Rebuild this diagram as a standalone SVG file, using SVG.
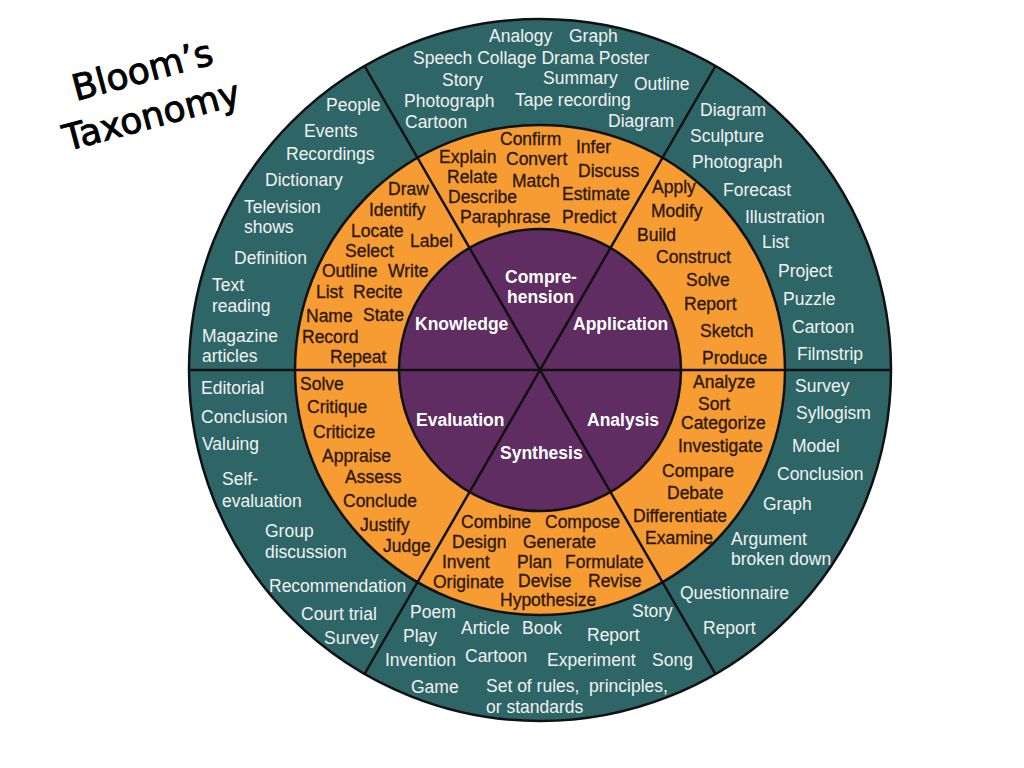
<svg xmlns="http://www.w3.org/2000/svg" width="1024" height="768" viewBox="0 0 1024 768">
<style>
.bg{fill:#ffffff}
.ring{stroke:#111111;stroke-width:2.5}
.teal{fill:#2e6667}
.orange{fill:#f69c33}
.purple{fill:#5f2d61}
.div{stroke:#111111;stroke-width:2.5;fill:none}
text{font-family:"Liberation Sans",Arial,sans-serif;font-size:17.5px}
.t{fill:#f1f1f1}
.o{fill:#2a1706;stroke:#2a1706;stroke-width:0.3}
.p{fill:#ffffff;font-weight:bold}
.title{font-family:"DejaVu Sans",Verdana,sans-serif;font-size:36px;fill:#000000;stroke:#000000;stroke-width:0.9}
</style>
<rect class="bg" x="0" y="0" width="1024" height="768"/>
<g id="title">
<text class="title" transform="translate(76,101) rotate(-15)">Bloom’s</text>
<text class="title" transform="translate(67,151) rotate(-15)">Taxonomy</text>
</g>
<g id="rings">
<circle class="ring teal" cx="540" cy="370" r="351"/>
<circle class="ring orange" cx="540" cy="370" r="245"/>
<circle class="ring purple" cx="540" cy="370" r="141"/>
</g>
<g id="connectors">
<line class="div" x1="189" y1="370" x2="891" y2="370"/>
<line class="div" x1="364.5" y1="66" x2="715.5" y2="674"/>
<line class="div" x1="715.5" y1="66" x2="364.5" y2="674"/>
</g>
<g id="knowledge">
<text class="p" x="415" y="330">Knowledge</text>
<text class="o" x="388" y="195">Draw</text>
<text class="o" x="369" y="216">Identify</text>
<text class="o" x="351" y="237">Locate</text>
<text class="o" x="410" y="247">Label</text>
<text class="o" x="345" y="257">Select</text>
<text class="o" x="322" y="277">Outline</text>
<text class="o" x="388" y="277">Write</text>
<text class="o" x="316" y="298">List</text>
<text class="o" x="353" y="298">Recite</text>
<text class="o" x="306" y="322">Name</text>
<text class="o" x="363" y="321">State</text>
<text class="o" x="302" y="343">Record</text>
<text class="o" x="330" y="363">Repeat</text>
<text class="t" x="326" y="111">People</text>
<text class="t" x="304" y="137">Events</text>
<text class="t" x="286" y="160">Recordings</text>
<text class="t" x="265" y="186">Dictionary</text>
<text class="t" x="244" y="213">Television</text>
<text class="t" x="244" y="233">shows</text>
<text class="t" x="234" y="264">Definition</text>
<text class="t" x="212" y="291">Text</text>
<text class="t" x="212" y="312">reading</text>
<text class="t" x="202" y="342">Magazine</text>
<text class="t" x="202" y="362">articles</text>
</g>
<g id="comprehension">
<text class="p" x="505" y="283">Compre-</text>
<text class="p" x="507" y="303">hension</text>
<text class="o" x="500" y="145">Confirm</text>
<text class="o" x="576" y="153">Infer</text>
<text class="o" x="439" y="163">Explain</text>
<text class="o" x="506" y="165">Convert</text>
<text class="o" x="578" y="177">Discuss</text>
<text class="o" x="447" y="183">Relate</text>
<text class="o" x="512" y="187">Match</text>
<text class="o" x="448" y="203">Describe</text>
<text class="o" x="562" y="200">Estimate</text>
<text class="o" x="460" y="223">Paraphrase</text>
<text class="o" x="562" y="223">Predict</text>
<text class="t" x="489" y="42">Analogy</text>
<text class="t" x="569" y="42">Graph</text>
<text class="t" x="413" y="64">Speech Collage Drama Poster</text>
<text class="t" x="442" y="86">Story</text>
<text class="t" x="543" y="84">Summary</text>
<text class="t" x="634" y="90">Outline</text>
<text class="t" x="404" y="107">Photograph</text>
<text class="t" x="515" y="106">Tape recording</text>
<text class="t" x="405" y="128">Cartoon</text>
<text class="t" x="608" y="127">Diagram</text>
</g>
<g id="application">
<text class="p" x="573" y="330">Application</text>
<text class="o" x="652" y="193">Apply</text>
<text class="o" x="651" y="217">Modify</text>
<text class="o" x="637" y="241">Build</text>
<text class="o" x="656" y="263">Construct</text>
<text class="o" x="686" y="286">Solve</text>
<text class="o" x="684" y="310">Report</text>
<text class="o" x="700" y="337">Sketch</text>
<text class="o" x="702" y="364">Produce</text>
<text class="t" x="700" y="116">Diagram</text>
<text class="t" x="690" y="142">Sculpture</text>
<text class="t" x="692" y="168">Photograph</text>
<text class="t" x="723" y="196">Forecast</text>
<text class="t" x="745" y="223">Illustration</text>
<text class="t" x="762" y="248">List</text>
<text class="t" x="778" y="277">Project</text>
<text class="t" x="783" y="305">Puzzle</text>
<text class="t" x="792" y="333">Cartoon</text>
<text class="t" x="797" y="360">Filmstrip</text>
</g>
<g id="analysis">
<text class="p" x="587" y="426">Analysis</text>
<text class="o" x="693" y="388">Analyze</text>
<text class="o" x="698" y="410">Sort</text>
<text class="o" x="681" y="429">Categorize</text>
<text class="o" x="678" y="452">Investigate</text>
<text class="o" x="662" y="477">Compare</text>
<text class="o" x="667" y="499">Debate</text>
<text class="o" x="633" y="522">Differentiate</text>
<text class="o" x="645" y="544">Examine</text>
<text class="t" x="795" y="392">Survey</text>
<text class="t" x="796" y="419">Syllogism</text>
<text class="t" x="792" y="452">Model</text>
<text class="t" x="777" y="480">Conclusion</text>
<text class="t" x="763" y="510">Graph</text>
<text class="t" x="731" y="545">Argument</text>
<text class="t" x="731" y="565">broken down</text>
<text class="t" x="680" y="599">Questionnaire</text>
<text class="t" x="703" y="634">Report</text>
</g>
<g id="synthesis">
<text class="p" x="500" y="459">Synthesis</text>
<text class="o" x="461" y="528">Combine</text>
<text class="o" x="545" y="528">Compose</text>
<text class="o" x="452" y="548">Design</text>
<text class="o" x="523" y="548">Generate</text>
<text class="o" x="442" y="568">Invent</text>
<text class="o" x="517" y="568">Plan</text>
<text class="o" x="565" y="568">Formulate</text>
<text class="o" x="433" y="588">Originate</text>
<text class="o" x="518" y="587">Devise</text>
<text class="o" x="588" y="587">Revise</text>
<text class="o" x="500" y="606">Hypothesize</text>
<text class="t" x="410" y="618">Poem</text>
<text class="t" x="632" y="617">Story</text>
<text class="t" x="461" y="634">Article</text>
<text class="t" x="522" y="634">Book</text>
<text class="t" x="403" y="642">Play</text>
<text class="t" x="587" y="641">Report</text>
<text class="t" x="385" y="666">Invention</text>
<text class="t" x="465" y="662">Cartoon</text>
<text class="t" x="547" y="666">Experiment</text>
<text class="t" x="652" y="666">Song</text>
<text class="t" x="411" y="693">Game</text>
<text class="t" x="486" y="692" xml:space="preserve">Set of rules,  principles,</text>
<text class="t" x="486" y="713">or standards</text>
</g>
<g id="evaluation">
<text class="p" x="416" y="426">Evaluation</text>
<text class="o" x="300" y="390">Solve</text>
<text class="o" x="307" y="413">Critique</text>
<text class="o" x="313" y="438">Criticize</text>
<text class="o" x="322" y="462">Appraise</text>
<text class="o" x="345" y="483">Assess</text>
<text class="o" x="343" y="507">Conclude</text>
<text class="o" x="360" y="531">Justify</text>
<text class="o" x="383" y="552">Judge</text>
<text class="t" x="201" y="394">Editorial</text>
<text class="t" x="201" y="423">Conclusion</text>
<text class="t" x="202" y="450">Valuing</text>
<text class="t" x="222" y="485">Self-</text>
<text class="t" x="222" y="507">evaluation</text>
<text class="t" x="265" y="537">Group</text>
<text class="t" x="265" y="558">discussion</text>
<text class="t" x="269" y="592">Recommendation</text>
<text class="t" x="301" y="620">Court trial</text>
<text class="t" x="324" y="644">Survey</text>
</g>
</svg>
